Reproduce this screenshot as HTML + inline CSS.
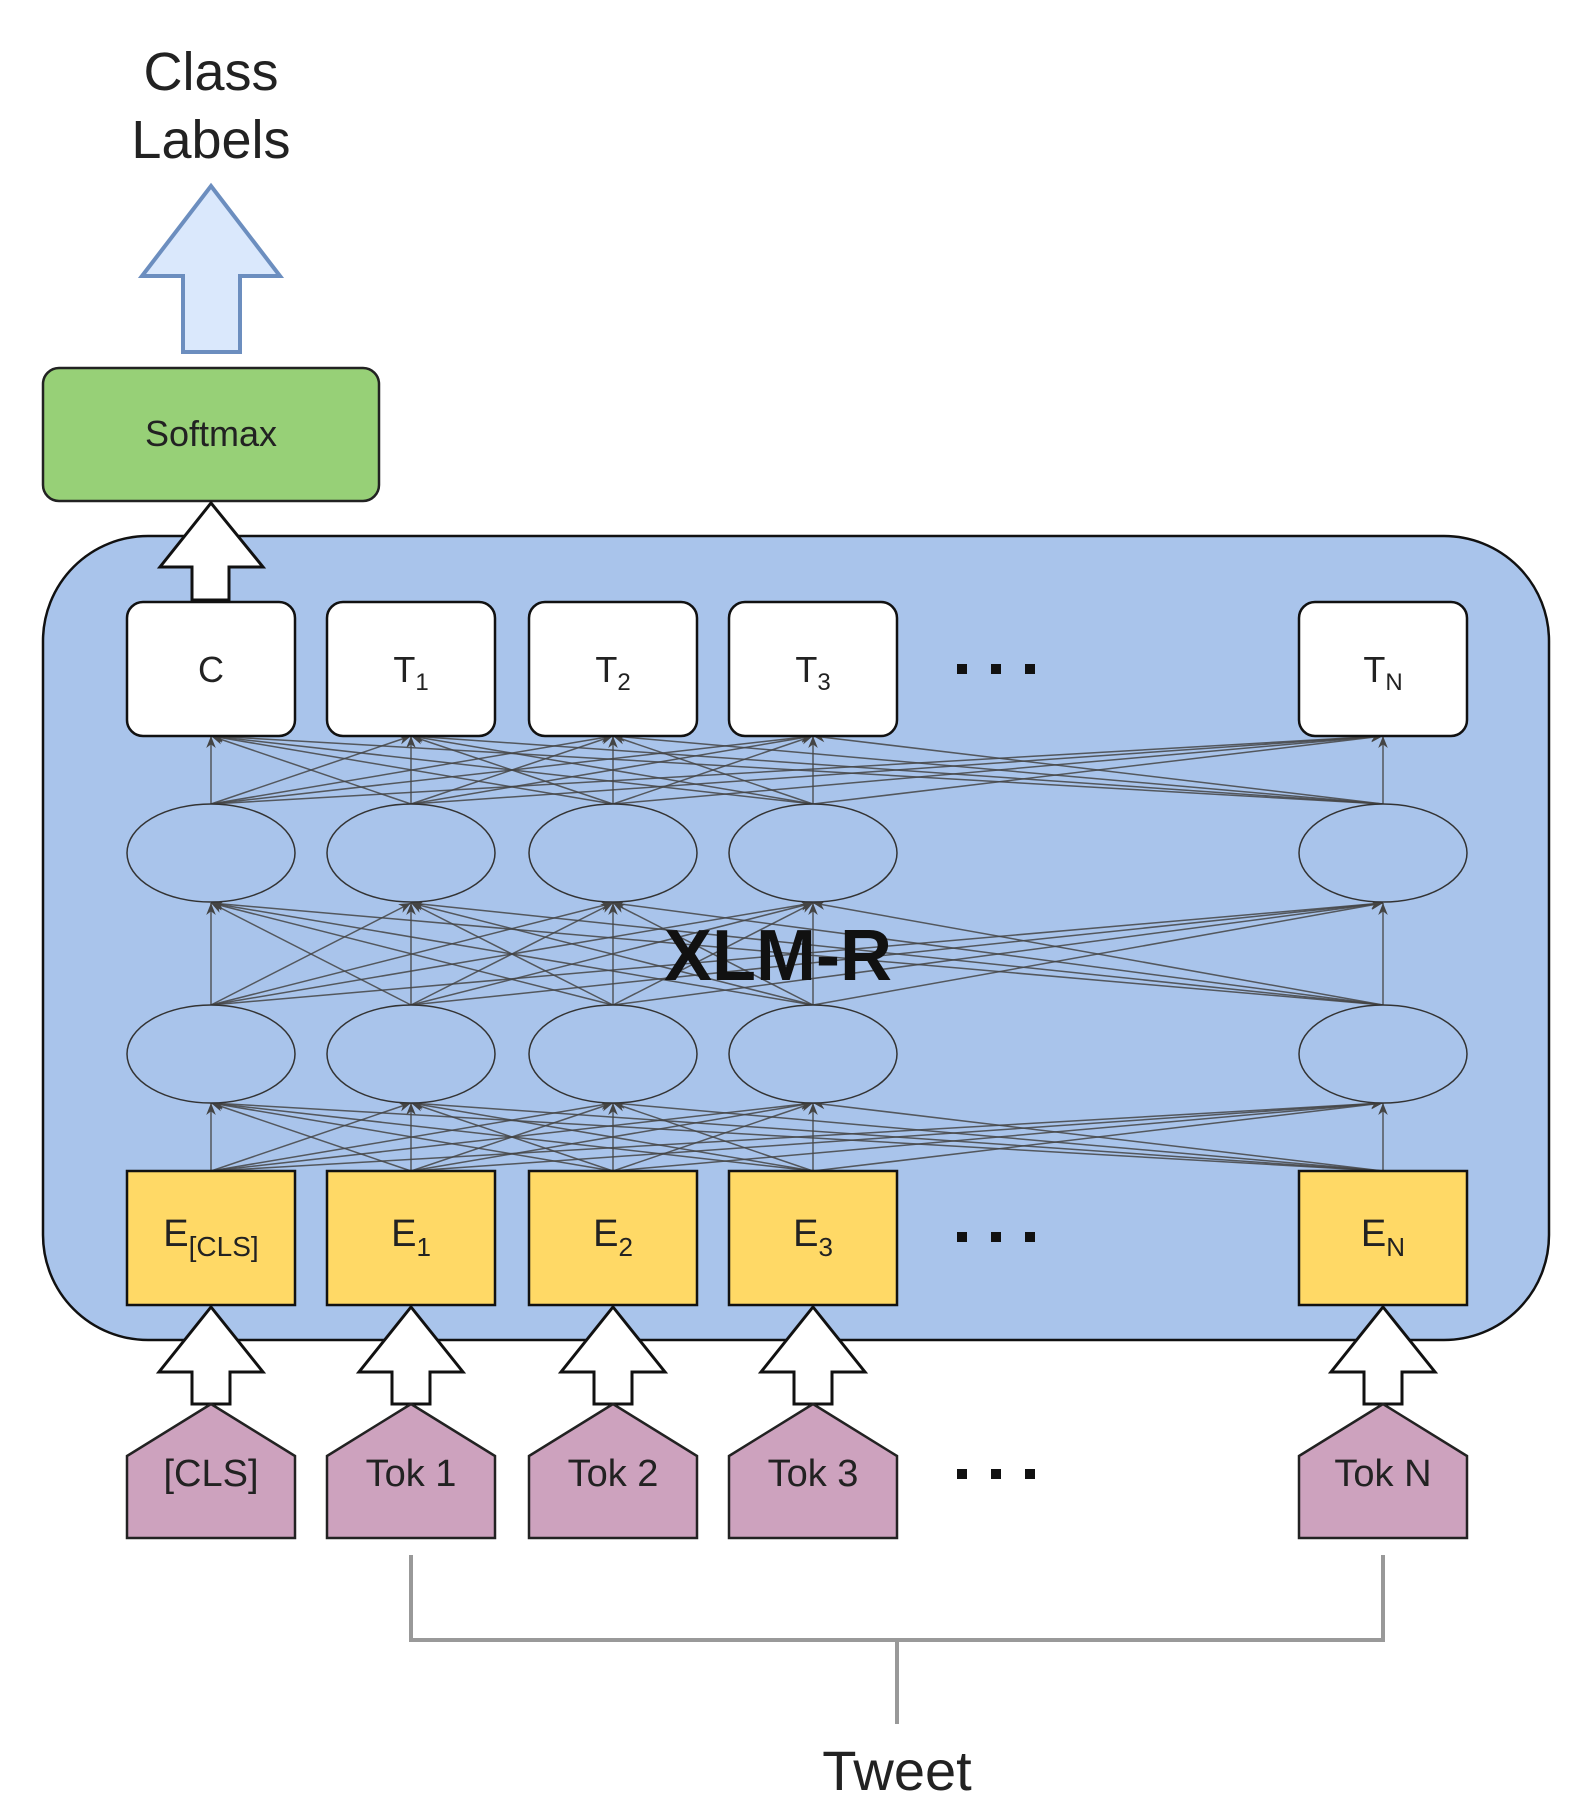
<!DOCTYPE html>
<html><head><meta charset="utf-8"><style>
html,body{margin:0;padding:0;background:#fff;}
svg{display:block}
text{font-family:"Liberation Sans",sans-serif;}
</style></head><body>
<svg id="s" width="1584" height="1819" viewBox="0 0 1584 1819" xmlns="http://www.w3.org/2000/svg">
<defs>
<marker id="ah" viewBox="0 0 10 10" refX="10" refY="5" markerWidth="12" markerHeight="12" markerUnits="userSpaceOnUse" orient="auto"><path d="M0,1 L10,5 L0,9 L3,5 z" fill="#444"/></marker>
</defs>
<text x="211" y="90" font-size="54" text-anchor="middle" fill="#222">Class</text>
<text x="211" y="158" font-size="54" text-anchor="middle" fill="#222">Labels</text>
<path d="M211,186 L280,276 L240,276 L240,352 L183,352 L183,276 L142,276 Z" fill="#dae8fc" stroke="#6c8ebf" stroke-width="4"/>
<rect x="43" y="368" width="336" height="133" rx="16" fill="#97d077" stroke="#222" stroke-width="2.5"/>
<text x="211" y="446" font-size="36" text-anchor="middle" fill="#222">Softmax</text>
<rect x="43" y="536" width="1506" height="804" rx="105" fill="#a9c4eb" stroke="#111" stroke-width="2.5"/>
<path d="M211,503 L263,567 L229,567 L229,600 L192,600 L192,567 L160,567 Z" fill="#fff" stroke="#111" stroke-width="3"/>
<g id="lines"></g>
<g id="nodes"></g>
<text x="778" y="980" font-size="72" font-weight="bold" text-anchor="middle" fill="#111">XLM-R</text>
<g fill="#111">
<rect x="957" y="664" width="10" height="10"/><rect x="991" y="664" width="10" height="10"/><rect x="1025" y="664" width="10" height="10"/>
<rect x="957" y="1232" width="10" height="10"/><rect x="991" y="1232" width="10" height="10"/><rect x="1025" y="1232" width="10" height="10"/>
<rect x="957" y="1469" width="10" height="10"/><rect x="991" y="1469" width="10" height="10"/><rect x="1025" y="1469" width="10" height="10"/>
</g>
<path d="M411,1555 L411,1640 L1383,1640 L1383,1555 M897,1640 L897,1724" fill="none" stroke="#999" stroke-width="4"/>
<text x="897" y="1790" font-size="56" text-anchor="middle" fill="#222">Tweet</text>
</svg>
<script>
var xs=[211,411,613,813,1383];
var ns="http://www.w3.org/2000/svg";
var L=document.getElementById('lines'),N=document.getElementById('nodes');
function el(t,a,p,txt){var e=document.createElementNS(ns,t);for(var k in a)e.setAttribute(k,a[k]);if(txt!==undefined)e.innerHTML=txt;(p||N).appendChild(e);return e;}
var layers=[[1171,1103],[1005,903],[804,736]];
layers.forEach(function(l){xs.forEach(function(a){xs.forEach(function(b){
el('line',{x1:a,y1:l[0],x2:b,y2:l[1],stroke:'#444','stroke-width':1.5,'stroke-opacity':0.85,'marker-end':'url(#ah)'},L);});});});
var tl=['C','T<tspan font-size="24" dy="8">1</tspan>','T<tspan font-size="24" dy="8">2</tspan>','T<tspan font-size="24" dy="8">3</tspan>','T<tspan font-size="24" dy="8">N</tspan>'];
var el2=['E<tspan font-size="28" dy="10">[CLS]</tspan>','E<tspan font-size="26" dy="10">1</tspan>','E<tspan font-size="26" dy="10">2</tspan>','E<tspan font-size="26" dy="10">3</tspan>','E<tspan font-size="26" dy="10">N</tspan>'];
var pl=['[CLS]','Tok 1','Tok 2','Tok 3','Tok N'];
xs.forEach(function(x,i){
el('rect',{x:x-84,y:602,width:168,height:134,rx:16,fill:'#fff',stroke:'#111','stroke-width':2.5});
el('text',{x:x,y:682,'font-size':36,'text-anchor':'middle',fill:'#222'},undefined,tl[i]);
el('ellipse',{cx:x,cy:853,rx:84,ry:49,fill:'#a9c4eb',stroke:'#333','stroke-width':1.5});
el('ellipse',{cx:x,cy:1054,rx:84,ry:49,fill:'#a9c4eb',stroke:'#333','stroke-width':1.5});
el('rect',{x:x-84,y:1171,width:168,height:134,fill:'#ffd966',stroke:'#111','stroke-width':2.5});
el('text',{x:x,y:1246,'font-size':38,'text-anchor':'middle',fill:'#222'},undefined,el2[i]);
el('path',{d:'M'+x+',1307 L'+(x+52)+',1372 L'+(x+19)+',1372 L'+(x+19)+',1404 L'+(x-19)+',1404 L'+(x-19)+',1372 L'+(x-52)+',1372 Z',fill:'#fff',stroke:'#111','stroke-width':3});
el('path',{d:'M'+x+',1404 L'+(x+84)+',1456 L'+(x+84)+',1538 L'+(x-84)+',1538 L'+(x-84)+',1456 Z',fill:'#cda2be',stroke:'#222','stroke-width':2.5});
el('text',{x:x,y:1486,'font-size':38,'text-anchor':'middle',fill:'#222'},undefined,pl[i]);
});
</script>
</body></html>
